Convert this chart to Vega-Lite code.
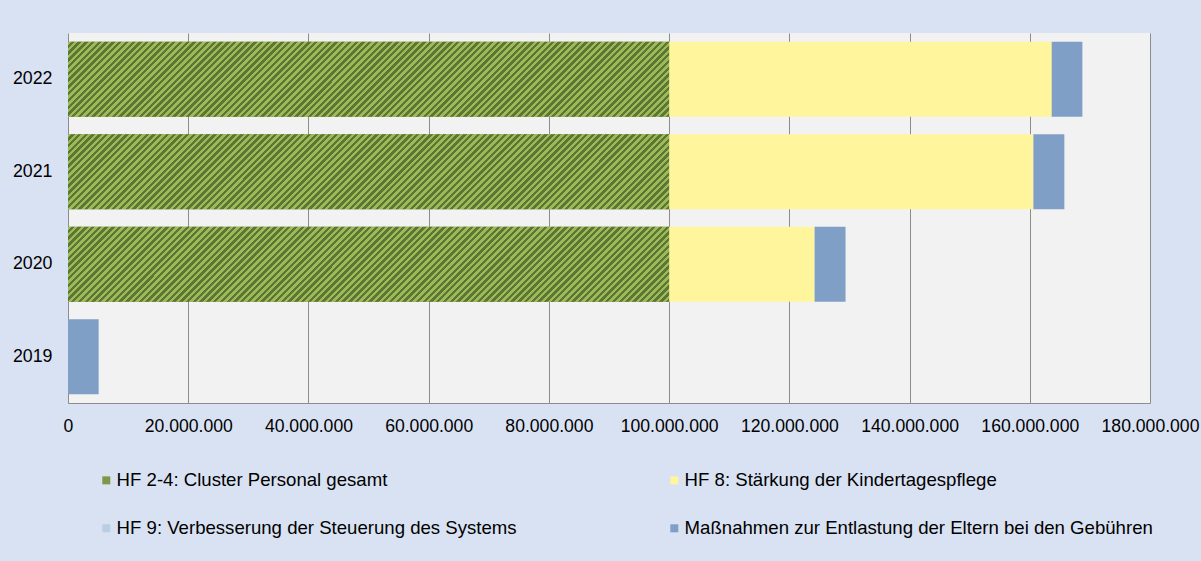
{
  "$schema": "https://vega.github.io/schema/vega-lite/v6.json",
  "width": 1082,
  "height": 370,
  "autosize": "none",
  "padding": {"left": 68, "top": 33, "right": 51, "bottom": 158},
  "background": "#D9E2F3",
  "config": {
    "view": {"fill": "#F2F2F2", "stroke": null},
    "font": "Liberation Sans",
    "locale": {"number": {"decimal": ",", "thousands": ".", "grouping": [3], "currency": ["", " €"]}}
  },
  "data": {
    "values": [
      {"year": "2022", "series": "HF 2-4: Cluster Personal gesamt", "k": 1, "value": 100000000},
      {"year": "2022", "series": "HF 8: Stärkung der Kindertagespflege", "k": 2, "value": 63650000},
      {"year": "2022", "series": "HF 9: Verbesserung der Steuerung des Systems", "k": 3, "value": 0},
      {"year": "2022", "series": "Maßnahmen zur Entlastung der Eltern bei den Gebühren", "k": 4, "value": 5100000},
      {"year": "2021", "series": "HF 2-4: Cluster Personal gesamt", "k": 1, "value": 100000000},
      {"year": "2021", "series": "HF 8: Stärkung der Kindertagespflege", "k": 2, "value": 60600000},
      {"year": "2021", "series": "HF 9: Verbesserung der Steuerung des Systems", "k": 3, "value": 0},
      {"year": "2021", "series": "Maßnahmen zur Entlastung der Eltern bei den Gebühren", "k": 4, "value": 5150000},
      {"year": "2020", "series": "HF 2-4: Cluster Personal gesamt", "k": 1, "value": 100000000},
      {"year": "2020", "series": "HF 8: Stärkung der Kindertagespflege", "k": 2, "value": 24200000},
      {"year": "2020", "series": "HF 9: Verbesserung der Steuerung des Systems", "k": 3, "value": 0},
      {"year": "2020", "series": "Maßnahmen zur Entlastung der Eltern bei den Gebühren", "k": 4, "value": 5150000},
      {"year": "2019", "series": "HF 2-4: Cluster Personal gesamt", "k": 1, "value": 0},
      {"year": "2019", "series": "HF 8: Stärkung der Kindertagespflege", "k": 2, "value": 0},
      {"year": "2019", "series": "HF 9: Verbesserung der Steuerung des Systems", "k": 3, "value": 0},
      {"year": "2019", "series": "Maßnahmen zur Entlastung der Eltern bei den Gebühren", "k": 4, "value": 5100000}
    ]
  },
  "encoding": {
    "y": {
      "field": "year", "type": "nominal", "sort": "descending",
      "scale": {"paddingInner": 0.19, "paddingOuter": 0.095},
      "axis": {"title": null, "ticks": false, "domain": false, "grid": false, "labelPadding": 16, "labelFontSize": 17.8, "labelColor": "#000000"}
    },
    "x": {
      "field": "value", "type": "quantitative", "stack": "zero",
      "scale": {"domain": [0, 180000000], "nice": false},
      "axis": {"title": null, "values": [0, 20000000, 40000000, 60000000, 80000000, 100000000, 120000000, 140000000, 160000000, 180000000], "format": ",.0f", "grid": true, "gridColor": "#8C8C8C", "gridWidth": 1, "domainColor": "#8C8C8C", "ticks": false, "labelPadding": 14, "labelFontSize": 17.6, "labelColor": "#000000", "labelFlush": false, "labelOverlap": false}
    }
  },
  "layer": [
    {
      "mark": {"type": "bar"},
      "encoding": {
        "color": {
          "field": "series", "type": "nominal",
          "scale": {
            "domain": ["HF 2-4: Cluster Personal gesamt", "HF 9: Verbesserung der Steuerung des Systems", "HF 8: Stärkung der Kindertagespflege", "Maßnahmen zur Entlastung der Eltern bei den Gebühren"],
            "range": ["#7D9847", "#B9CDE5", "#FFF59D", "#7F9FC6"]
          },
          "legend": {"title": null, "orient": "none", "legendX": 29, "legendY": 438, "columns": 2, "symbolType": "square", "symbolSize": 64, "symbolStrokeWidth": 0, "labelFontSize": 18.6, "labelColor": "#000000", "labelOffset": 1, "labelLimit": 800, "columnPadding": 148, "rowPadding": 29, "padding": 0}
        },
        "order": {"field": "k"}
      }
    },
    {
      "transform": [{"filter": "datum.k == 1"}],
      "mark": {
        "type": "bar",
        "fill": {
          "gradient": "linear", "x1": 0, "y1": 0, "x2": 1.1074, "y2": 0.138,
          "stops": [
{"offset":0.000,"color":"#9BBB59"},{"offset":0.005,"color":"#9BBB59"},{"offset":0.005,"color":"#5E7534"},{"offset":0.010,"color":"#5E7534"},
{"offset":0.010,"color":"#9BBB59"},{"offset":0.015,"color":"#9BBB59"},{"offset":0.015,"color":"#5E7534"},{"offset":0.020,"color":"#5E7534"},
{"offset":0.020,"color":"#9BBB59"},{"offset":0.025,"color":"#9BBB59"},{"offset":0.025,"color":"#5E7534"},{"offset":0.030,"color":"#5E7534"},
{"offset":0.030,"color":"#9BBB59"},{"offset":0.035,"color":"#9BBB59"},{"offset":0.035,"color":"#5E7534"},{"offset":0.040,"color":"#5E7534"},
{"offset":0.040,"color":"#9BBB59"},{"offset":0.045,"color":"#9BBB59"},{"offset":0.045,"color":"#5E7534"},{"offset":0.050,"color":"#5E7534"},
{"offset":0.050,"color":"#9BBB59"},{"offset":0.055,"color":"#9BBB59"},{"offset":0.055,"color":"#5E7534"},{"offset":0.060,"color":"#5E7534"},
{"offset":0.060,"color":"#9BBB59"},{"offset":0.065,"color":"#9BBB59"},{"offset":0.065,"color":"#5E7534"},{"offset":0.070,"color":"#5E7534"},
{"offset":0.070,"color":"#9BBB59"},{"offset":0.075,"color":"#9BBB59"},{"offset":0.075,"color":"#5E7534"},{"offset":0.080,"color":"#5E7534"},
{"offset":0.080,"color":"#9BBB59"},{"offset":0.085,"color":"#9BBB59"},{"offset":0.085,"color":"#5E7534"},{"offset":0.090,"color":"#5E7534"},
{"offset":0.090,"color":"#9BBB59"},{"offset":0.095,"color":"#9BBB59"},{"offset":0.095,"color":"#5E7534"},{"offset":0.100,"color":"#5E7534"},
{"offset":0.100,"color":"#9BBB59"},{"offset":0.105,"color":"#9BBB59"},{"offset":0.105,"color":"#5E7534"},{"offset":0.110,"color":"#5E7534"},
{"offset":0.110,"color":"#9BBB59"},{"offset":0.115,"color":"#9BBB59"},{"offset":0.115,"color":"#5E7534"},{"offset":0.120,"color":"#5E7534"},
{"offset":0.120,"color":"#9BBB59"},{"offset":0.125,"color":"#9BBB59"},{"offset":0.125,"color":"#5E7534"},{"offset":0.130,"color":"#5E7534"},
{"offset":0.130,"color":"#9BBB59"},{"offset":0.135,"color":"#9BBB59"},{"offset":0.135,"color":"#5E7534"},{"offset":0.140,"color":"#5E7534"},
{"offset":0.140,"color":"#9BBB59"},{"offset":0.145,"color":"#9BBB59"},{"offset":0.145,"color":"#5E7534"},{"offset":0.150,"color":"#5E7534"},
{"offset":0.150,"color":"#9BBB59"},{"offset":0.155,"color":"#9BBB59"},{"offset":0.155,"color":"#5E7534"},{"offset":0.160,"color":"#5E7534"},
{"offset":0.160,"color":"#9BBB59"},{"offset":0.165,"color":"#9BBB59"},{"offset":0.165,"color":"#5E7534"},{"offset":0.170,"color":"#5E7534"},
{"offset":0.170,"color":"#9BBB59"},{"offset":0.175,"color":"#9BBB59"},{"offset":0.175,"color":"#5E7534"},{"offset":0.180,"color":"#5E7534"},
{"offset":0.180,"color":"#9BBB59"},{"offset":0.185,"color":"#9BBB59"},{"offset":0.185,"color":"#5E7534"},{"offset":0.190,"color":"#5E7534"},
{"offset":0.190,"color":"#9BBB59"},{"offset":0.195,"color":"#9BBB59"},{"offset":0.195,"color":"#5E7534"},{"offset":0.200,"color":"#5E7534"},
{"offset":0.200,"color":"#9BBB59"},{"offset":0.205,"color":"#9BBB59"},{"offset":0.205,"color":"#5E7534"},{"offset":0.210,"color":"#5E7534"},
{"offset":0.210,"color":"#9BBB59"},{"offset":0.215,"color":"#9BBB59"},{"offset":0.215,"color":"#5E7534"},{"offset":0.220,"color":"#5E7534"},
{"offset":0.220,"color":"#9BBB59"},{"offset":0.225,"color":"#9BBB59"},{"offset":0.225,"color":"#5E7534"},{"offset":0.230,"color":"#5E7534"},
{"offset":0.230,"color":"#9BBB59"},{"offset":0.235,"color":"#9BBB59"},{"offset":0.235,"color":"#5E7534"},{"offset":0.240,"color":"#5E7534"},
{"offset":0.240,"color":"#9BBB59"},{"offset":0.245,"color":"#9BBB59"},{"offset":0.245,"color":"#5E7534"},{"offset":0.250,"color":"#5E7534"},
{"offset":0.250,"color":"#9BBB59"},{"offset":0.255,"color":"#9BBB59"},{"offset":0.255,"color":"#5E7534"},{"offset":0.260,"color":"#5E7534"},
{"offset":0.260,"color":"#9BBB59"},{"offset":0.265,"color":"#9BBB59"},{"offset":0.265,"color":"#5E7534"},{"offset":0.270,"color":"#5E7534"},
{"offset":0.270,"color":"#9BBB59"},{"offset":0.275,"color":"#9BBB59"},{"offset":0.275,"color":"#5E7534"},{"offset":0.280,"color":"#5E7534"},
{"offset":0.280,"color":"#9BBB59"},{"offset":0.285,"color":"#9BBB59"},{"offset":0.285,"color":"#5E7534"},{"offset":0.290,"color":"#5E7534"},
{"offset":0.290,"color":"#9BBB59"},{"offset":0.295,"color":"#9BBB59"},{"offset":0.295,"color":"#5E7534"},{"offset":0.300,"color":"#5E7534"},
{"offset":0.300,"color":"#9BBB59"},{"offset":0.305,"color":"#9BBB59"},{"offset":0.305,"color":"#5E7534"},{"offset":0.310,"color":"#5E7534"},
{"offset":0.310,"color":"#9BBB59"},{"offset":0.315,"color":"#9BBB59"},{"offset":0.315,"color":"#5E7534"},{"offset":0.320,"color":"#5E7534"},
{"offset":0.320,"color":"#9BBB59"},{"offset":0.325,"color":"#9BBB59"},{"offset":0.325,"color":"#5E7534"},{"offset":0.330,"color":"#5E7534"},
{"offset":0.330,"color":"#9BBB59"},{"offset":0.335,"color":"#9BBB59"},{"offset":0.335,"color":"#5E7534"},{"offset":0.340,"color":"#5E7534"},
{"offset":0.340,"color":"#9BBB59"},{"offset":0.345,"color":"#9BBB59"},{"offset":0.345,"color":"#5E7534"},{"offset":0.350,"color":"#5E7534"},
{"offset":0.350,"color":"#9BBB59"},{"offset":0.355,"color":"#9BBB59"},{"offset":0.355,"color":"#5E7534"},{"offset":0.360,"color":"#5E7534"},
{"offset":0.360,"color":"#9BBB59"},{"offset":0.365,"color":"#9BBB59"},{"offset":0.365,"color":"#5E7534"},{"offset":0.370,"color":"#5E7534"},
{"offset":0.370,"color":"#9BBB59"},{"offset":0.375,"color":"#9BBB59"},{"offset":0.375,"color":"#5E7534"},{"offset":0.380,"color":"#5E7534"},
{"offset":0.380,"color":"#9BBB59"},{"offset":0.385,"color":"#9BBB59"},{"offset":0.385,"color":"#5E7534"},{"offset":0.390,"color":"#5E7534"},
{"offset":0.390,"color":"#9BBB59"},{"offset":0.395,"color":"#9BBB59"},{"offset":0.395,"color":"#5E7534"},{"offset":0.400,"color":"#5E7534"},
{"offset":0.400,"color":"#9BBB59"},{"offset":0.405,"color":"#9BBB59"},{"offset":0.405,"color":"#5E7534"},{"offset":0.410,"color":"#5E7534"},
{"offset":0.410,"color":"#9BBB59"},{"offset":0.415,"color":"#9BBB59"},{"offset":0.415,"color":"#5E7534"},{"offset":0.420,"color":"#5E7534"},
{"offset":0.420,"color":"#9BBB59"},{"offset":0.425,"color":"#9BBB59"},{"offset":0.425,"color":"#5E7534"},{"offset":0.430,"color":"#5E7534"},
{"offset":0.430,"color":"#9BBB59"},{"offset":0.435,"color":"#9BBB59"},{"offset":0.435,"color":"#5E7534"},{"offset":0.440,"color":"#5E7534"},
{"offset":0.440,"color":"#9BBB59"},{"offset":0.445,"color":"#9BBB59"},{"offset":0.445,"color":"#5E7534"},{"offset":0.450,"color":"#5E7534"},
{"offset":0.450,"color":"#9BBB59"},{"offset":0.455,"color":"#9BBB59"},{"offset":0.455,"color":"#5E7534"},{"offset":0.460,"color":"#5E7534"},
{"offset":0.460,"color":"#9BBB59"},{"offset":0.465,"color":"#9BBB59"},{"offset":0.465,"color":"#5E7534"},{"offset":0.470,"color":"#5E7534"},
{"offset":0.470,"color":"#9BBB59"},{"offset":0.475,"color":"#9BBB59"},{"offset":0.475,"color":"#5E7534"},{"offset":0.480,"color":"#5E7534"},
{"offset":0.480,"color":"#9BBB59"},{"offset":0.485,"color":"#9BBB59"},{"offset":0.485,"color":"#5E7534"},{"offset":0.490,"color":"#5E7534"},
{"offset":0.490,"color":"#9BBB59"},{"offset":0.495,"color":"#9BBB59"},{"offset":0.495,"color":"#5E7534"},{"offset":0.500,"color":"#5E7534"},
{"offset":0.500,"color":"#9BBB59"},{"offset":0.505,"color":"#9BBB59"},{"offset":0.505,"color":"#5E7534"},{"offset":0.510,"color":"#5E7534"},
{"offset":0.510,"color":"#9BBB59"},{"offset":0.515,"color":"#9BBB59"},{"offset":0.515,"color":"#5E7534"},{"offset":0.520,"color":"#5E7534"},
{"offset":0.520,"color":"#9BBB59"},{"offset":0.525,"color":"#9BBB59"},{"offset":0.525,"color":"#5E7534"},{"offset":0.530,"color":"#5E7534"},
{"offset":0.530,"color":"#9BBB59"},{"offset":0.535,"color":"#9BBB59"},{"offset":0.535,"color":"#5E7534"},{"offset":0.540,"color":"#5E7534"},
{"offset":0.540,"color":"#9BBB59"},{"offset":0.545,"color":"#9BBB59"},{"offset":0.545,"color":"#5E7534"},{"offset":0.550,"color":"#5E7534"},
{"offset":0.550,"color":"#9BBB59"},{"offset":0.555,"color":"#9BBB59"},{"offset":0.555,"color":"#5E7534"},{"offset":0.560,"color":"#5E7534"},
{"offset":0.560,"color":"#9BBB59"},{"offset":0.565,"color":"#9BBB59"},{"offset":0.565,"color":"#5E7534"},{"offset":0.570,"color":"#5E7534"},
{"offset":0.570,"color":"#9BBB59"},{"offset":0.575,"color":"#9BBB59"},{"offset":0.575,"color":"#5E7534"},{"offset":0.580,"color":"#5E7534"},
{"offset":0.580,"color":"#9BBB59"},{"offset":0.585,"color":"#9BBB59"},{"offset":0.585,"color":"#5E7534"},{"offset":0.590,"color":"#5E7534"},
{"offset":0.590,"color":"#9BBB59"},{"offset":0.595,"color":"#9BBB59"},{"offset":0.595,"color":"#5E7534"},{"offset":0.600,"color":"#5E7534"},
{"offset":0.600,"color":"#9BBB59"},{"offset":0.605,"color":"#9BBB59"},{"offset":0.605,"color":"#5E7534"},{"offset":0.610,"color":"#5E7534"},
{"offset":0.610,"color":"#9BBB59"},{"offset":0.615,"color":"#9BBB59"},{"offset":0.615,"color":"#5E7534"},{"offset":0.620,"color":"#5E7534"},
{"offset":0.620,"color":"#9BBB59"},{"offset":0.625,"color":"#9BBB59"},{"offset":0.625,"color":"#5E7534"},{"offset":0.630,"color":"#5E7534"},
{"offset":0.630,"color":"#9BBB59"},{"offset":0.635,"color":"#9BBB59"},{"offset":0.635,"color":"#5E7534"},{"offset":0.640,"color":"#5E7534"},
{"offset":0.640,"color":"#9BBB59"},{"offset":0.645,"color":"#9BBB59"},{"offset":0.645,"color":"#5E7534"},{"offset":0.650,"color":"#5E7534"},
{"offset":0.650,"color":"#9BBB59"},{"offset":0.655,"color":"#9BBB59"},{"offset":0.655,"color":"#5E7534"},{"offset":0.660,"color":"#5E7534"},
{"offset":0.660,"color":"#9BBB59"},{"offset":0.665,"color":"#9BBB59"},{"offset":0.665,"color":"#5E7534"},{"offset":0.670,"color":"#5E7534"},
{"offset":0.670,"color":"#9BBB59"},{"offset":0.675,"color":"#9BBB59"},{"offset":0.675,"color":"#5E7534"},{"offset":0.680,"color":"#5E7534"},
{"offset":0.680,"color":"#9BBB59"},{"offset":0.685,"color":"#9BBB59"},{"offset":0.685,"color":"#5E7534"},{"offset":0.690,"color":"#5E7534"},
{"offset":0.690,"color":"#9BBB59"},{"offset":0.695,"color":"#9BBB59"},{"offset":0.695,"color":"#5E7534"},{"offset":0.700,"color":"#5E7534"},
{"offset":0.700,"color":"#9BBB59"},{"offset":0.705,"color":"#9BBB59"},{"offset":0.705,"color":"#5E7534"},{"offset":0.710,"color":"#5E7534"},
{"offset":0.710,"color":"#9BBB59"},{"offset":0.715,"color":"#9BBB59"},{"offset":0.715,"color":"#5E7534"},{"offset":0.720,"color":"#5E7534"},
{"offset":0.720,"color":"#9BBB59"},{"offset":0.725,"color":"#9BBB59"},{"offset":0.725,"color":"#5E7534"},{"offset":0.730,"color":"#5E7534"},
{"offset":0.730,"color":"#9BBB59"},{"offset":0.735,"color":"#9BBB59"},{"offset":0.735,"color":"#5E7534"},{"offset":0.740,"color":"#5E7534"},
{"offset":0.740,"color":"#9BBB59"},{"offset":0.745,"color":"#9BBB59"},{"offset":0.745,"color":"#5E7534"},{"offset":0.750,"color":"#5E7534"},
{"offset":0.750,"color":"#9BBB59"},{"offset":0.755,"color":"#9BBB59"},{"offset":0.755,"color":"#5E7534"},{"offset":0.760,"color":"#5E7534"},
{"offset":0.760,"color":"#9BBB59"},{"offset":0.765,"color":"#9BBB59"},{"offset":0.765,"color":"#5E7534"},{"offset":0.770,"color":"#5E7534"},
{"offset":0.770,"color":"#9BBB59"},{"offset":0.775,"color":"#9BBB59"},{"offset":0.775,"color":"#5E7534"},{"offset":0.780,"color":"#5E7534"},
{"offset":0.780,"color":"#9BBB59"},{"offset":0.785,"color":"#9BBB59"},{"offset":0.785,"color":"#5E7534"},{"offset":0.790,"color":"#5E7534"},
{"offset":0.790,"color":"#9BBB59"},{"offset":0.795,"color":"#9BBB59"},{"offset":0.795,"color":"#5E7534"},{"offset":0.800,"color":"#5E7534"},
{"offset":0.800,"color":"#9BBB59"},{"offset":0.805,"color":"#9BBB59"},{"offset":0.805,"color":"#5E7534"},{"offset":0.810,"color":"#5E7534"},
{"offset":0.810,"color":"#9BBB59"},{"offset":0.815,"color":"#9BBB59"},{"offset":0.815,"color":"#5E7534"},{"offset":0.820,"color":"#5E7534"},
{"offset":0.820,"color":"#9BBB59"},{"offset":0.825,"color":"#9BBB59"},{"offset":0.825,"color":"#5E7534"},{"offset":0.830,"color":"#5E7534"},
{"offset":0.830,"color":"#9BBB59"},{"offset":0.835,"color":"#9BBB59"},{"offset":0.835,"color":"#5E7534"},{"offset":0.840,"color":"#5E7534"},
{"offset":0.840,"color":"#9BBB59"},{"offset":0.845,"color":"#9BBB59"},{"offset":0.845,"color":"#5E7534"},{"offset":0.850,"color":"#5E7534"},
{"offset":0.850,"color":"#9BBB59"},{"offset":0.855,"color":"#9BBB59"},{"offset":0.855,"color":"#5E7534"},{"offset":0.860,"color":"#5E7534"},
{"offset":0.860,"color":"#9BBB59"},{"offset":0.865,"color":"#9BBB59"},{"offset":0.865,"color":"#5E7534"},{"offset":0.870,"color":"#5E7534"},
{"offset":0.870,"color":"#9BBB59"},{"offset":0.875,"color":"#9BBB59"},{"offset":0.875,"color":"#5E7534"},{"offset":0.880,"color":"#5E7534"},
{"offset":0.880,"color":"#9BBB59"},{"offset":0.885,"color":"#9BBB59"},{"offset":0.885,"color":"#5E7534"},{"offset":0.890,"color":"#5E7534"},
{"offset":0.890,"color":"#9BBB59"},{"offset":0.895,"color":"#9BBB59"},{"offset":0.895,"color":"#5E7534"},{"offset":0.900,"color":"#5E7534"},
{"offset":0.900,"color":"#9BBB59"},{"offset":0.905,"color":"#9BBB59"},{"offset":0.905,"color":"#5E7534"},{"offset":0.910,"color":"#5E7534"},
{"offset":0.910,"color":"#9BBB59"},{"offset":0.915,"color":"#9BBB59"},{"offset":0.915,"color":"#5E7534"},{"offset":0.920,"color":"#5E7534"},
{"offset":0.920,"color":"#9BBB59"},{"offset":0.925,"color":"#9BBB59"},{"offset":0.925,"color":"#5E7534"},{"offset":0.930,"color":"#5E7534"},
{"offset":0.930,"color":"#9BBB59"},{"offset":0.935,"color":"#9BBB59"},{"offset":0.935,"color":"#5E7534"},{"offset":0.940,"color":"#5E7534"},
{"offset":0.940,"color":"#9BBB59"},{"offset":0.945,"color":"#9BBB59"},{"offset":0.945,"color":"#5E7534"},{"offset":0.950,"color":"#5E7534"},
{"offset":0.950,"color":"#9BBB59"},{"offset":0.955,"color":"#9BBB59"},{"offset":0.955,"color":"#5E7534"},{"offset":0.960,"color":"#5E7534"},
{"offset":0.960,"color":"#9BBB59"},{"offset":0.965,"color":"#9BBB59"},{"offset":0.965,"color":"#5E7534"},{"offset":0.970,"color":"#5E7534"},
{"offset":0.970,"color":"#9BBB59"},{"offset":0.975,"color":"#9BBB59"},{"offset":0.975,"color":"#5E7534"},{"offset":0.980,"color":"#5E7534"},
{"offset":0.980,"color":"#9BBB59"},{"offset":0.985,"color":"#9BBB59"},{"offset":0.985,"color":"#5E7534"},{"offset":0.990,"color":"#5E7534"},
{"offset":0.990,"color":"#9BBB59"},{"offset":0.995,"color":"#9BBB59"},{"offset":0.995,"color":"#5E7534"},{"offset":1.000,"color":"#5E7534"}
          ]
        }
      },
      "encoding": {}
    }
  ]
}
